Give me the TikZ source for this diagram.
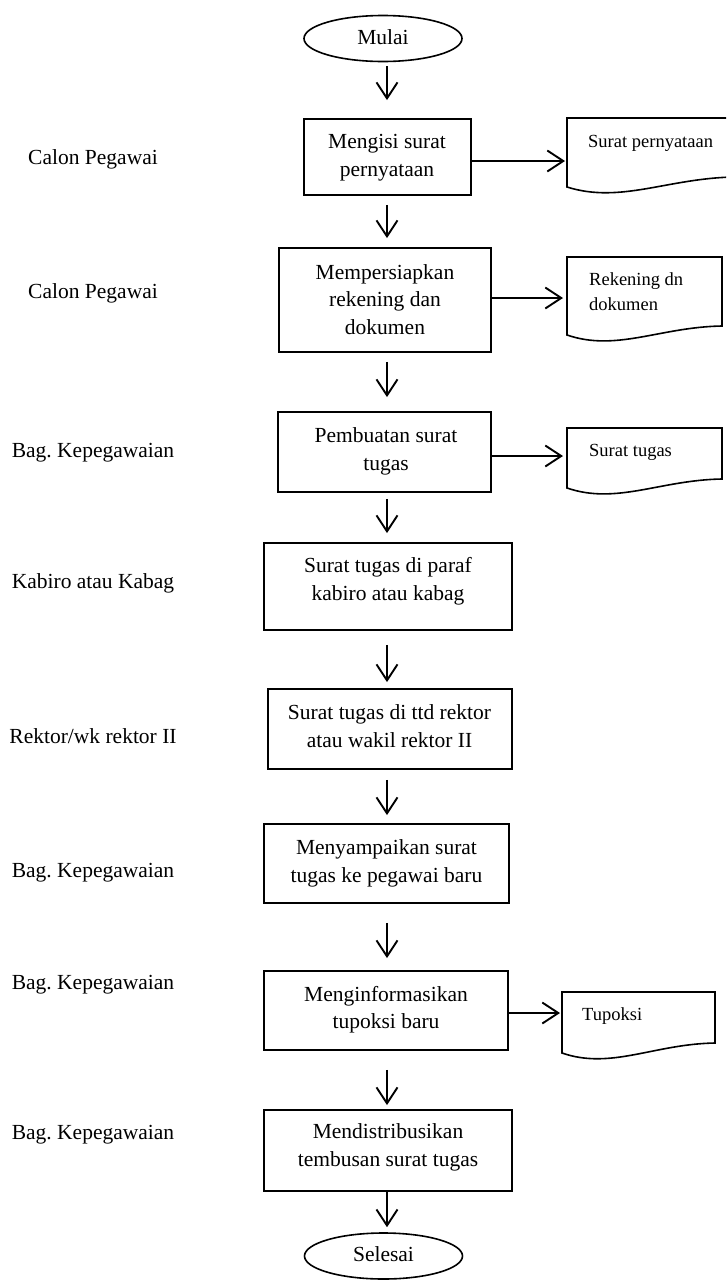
\documentclass[tikz,border=0pt]{standalone}
\usepackage{fontspec}
\setmainfont{Liberation Serif}
\usetikzlibrary{arrows.meta,shapes.geometric}
\frenchspacing

% document symbol: left x, top y, right x, bottom-left y, bottom-right y
\newcommand\docoutline[5]{%
  \draw[docline] (#1,#4) -- (#1,#2) -- (#3,#2) -- (#3,#5)
    .. controls ({#1+0.6*(#3-#1)},{#5+1}) and ({#1+0.32*(#3-#1)},{#4+17}) .. (#1,#4) -- cycle;}

\begin{document}
\begin{tikzpicture}[x=1pt,y=-1pt,
  mainfont/.style={font=\fontsize{21.5}{27.5}\selectfont},
  box/.style={draw, line width=1.8pt, inner sep=0pt},
  term/.style={ellipse, draw, line width=1.6pt, inner sep=0pt,
    minimum width=158pt, minimum height=46pt, mainfont},
  boxtext/.style={align=center, inner sep=0pt, mainfont},
  role/.style={inner sep=0pt, mainfont},
  doctext/.style={anchor=west, align=left, inner sep=0pt,
    font=\fontsize{18.5}{25}\selectfont},
  docline/.style={line width=1.6pt, line join=miter},
  flow/.style={line width=1.9pt, -{Straight Barb[length=16pt,width=21pt]}},
]
\useasboundingbox (0,0) rectangle (726,1280);
\clip (0,0) rectangle (726,1280);

% vertical axis of the flow arrows
\coordinate (ax) at (387,0);

% terminators
\node[term] (start) at (383,38.5) {\strut Mulai};
\node[term] (stop)  at (383.5,1256) {\strut Selesai};

% process boxes
\node[box, minimum width=167pt, minimum height=76pt]  (b1) at (387.5,157) {};
\node[box, minimum width=212pt, minimum height=104pt] (b2) at (385,300) {};
\node[box, minimum width=213pt, minimum height=80pt]  (b3) at (384.5,452) {};
\node[box, minimum width=248pt, minimum height=87pt]  (b4) at (388,586.5) {};
\node[box, minimum width=244pt, minimum height=80pt]  (b5) at (390,729) {};
\node[box, minimum width=245pt, minimum height=79pt]  (b6) at (386.5,863.5) {};
\node[box, minimum width=244pt, minimum height=79pt]  (b7) at (386,1010.5) {};
\node[box, minimum width=248pt, minimum height=81pt]  (b8) at (388,1150.5) {};

% box texts
\node[boxtext] (b1t) at (387,157) {\strut Mengisi surat\\pernyataan\strut};
\node[boxtext] (b2t) at (385,301) {\strut Mempersiapkan\\rekening dan\\dokumen\strut};
\node[boxtext] (b3t) at (386,451) {\strut Pembuatan surat\\tugas\strut};
\node[boxtext] (b4t) at (388,581) {\strut Surat tugas di paraf\\kabiro atau kabag\strut};
\node[boxtext] (b5t) at (389.5,728) {\strut Surat tugas di ttd rektor\\atau wakil rektor II\strut};
\node[boxtext] (b6t) at (386.5,863) {\strut Menyampaikan surat\\tugas ke pegawai baru\strut};
\node[boxtext] (b7t) at (386,1009.5) {\strut Menginformasikan\\tupoksi baru\strut};
\node[boxtext] (b8t) at (388,1147) {\strut Mendistribusikan\\tembusan surat tugas\strut};

% role labels
\node[role] (r1) at (93,158.5) {\strut Calon Pegawai};
\node[role] (r2) at (93,292.5) {\strut Calon Pegawai};
\node[role] (r3) at (93,451.5) {\strut Bag. Kepegawaian};
\node[role] (r4) at (93,582.5) {\strut Kabiro atau Kabag};
\node[role] (r5) at (93,737.5) {\strut Rektor/wk rektor II};
\node[role] (r6) at (93,871.5) {\strut Bag. Kepegawaian};
\node[role] (r7) at (93,983.5) {\strut Bag. Kepegawaian};
\node[role] (r8) at (93,1133.5) {\strut Bag. Kepegawaian};

% documents
\docoutline{567}{118}{735}{187}{177}
\docoutline{567}{257}{722}{335}{326}
\docoutline{567}{428}{722}{488}{479}
\docoutline{562}{992}{715}{1053}{1043}
\node[doctext] (d1t) at (588,142.5) {\strut Surat pernyataan};
\node[doctext] (d2t) at (589,293) {\strut Rekening dn\\dokumen\strut};
\node[doctext] (d3t) at (589,451.5) {\strut Surat tugas};
\node[doctext] (d4t) at (582,1015.5) {\strut Tupoksi};
\coordinate (d1in) at (565,161);
\coordinate (d2in) at (563,298);
\coordinate (d3in) at (563,456);
\coordinate (d4in) at (560,1013);

% main flow
\draw[flow, shorten <=4pt, shorten >=18pt] (start.south -| ax) -- (b1.north -| ax);
\draw[flow, shorten <=9pt, shorten >=9pt]  (b1.south -| ax) -- (b2.north -| ax);
\draw[flow, shorten <=9pt, shorten >=14pt] (b2.south -| ax) -- (b3.north -| ax);
\draw[flow, shorten <=6pt, shorten >=9pt]  (b3.south -| ax) -- (b4.north -| ax);
\draw[flow, shorten <=14pt, shorten >=6pt] (b4.south -| ax) -- (b5.north -| ax);
\draw[flow, shorten <=10pt, shorten >=8pt] (b5.south -| ax) -- (b6.north -| ax);
\draw[flow, shorten <=19pt, shorten >=12pt] (b6.south -| ax) -- (b7.north -| ax);
\draw[flow, shorten <=19pt, shorten >=4pt] (b7.south -| ax) -- (b8.north -| ax);
\draw[flow, shorten >=5pt] (b8.south -| ax) -- (stop.north -| ax);

% outputs to documents
\draw[flow] (b1.east |- d1in) -- (d1in);
\draw[flow] (b2.east |- d2in) -- (d2in);
\draw[flow] (b3.east |- d3in) -- (d3in);
\draw[flow] (b7.east |- d4in) -- (d4in);
\end{tikzpicture}
\end{document}
